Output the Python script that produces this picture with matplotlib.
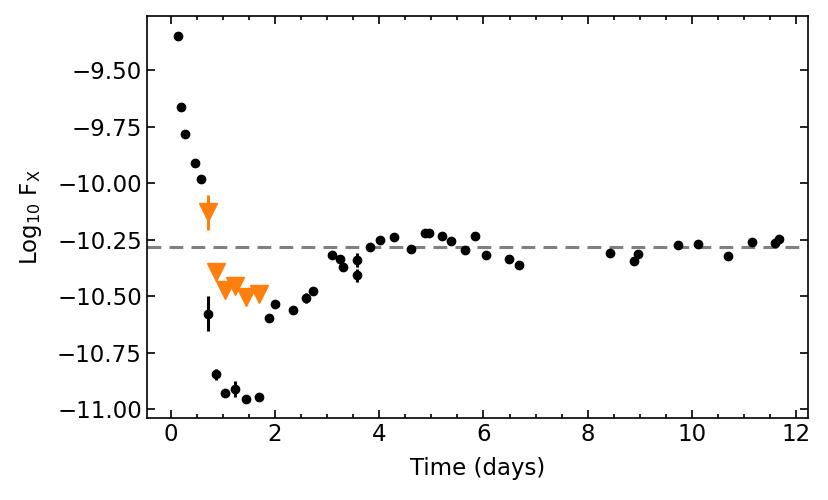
import numpy as np
import matplotlib
matplotlib.use("Agg")
import matplotlib.pyplot as plt
from matplotlib.ticker import FuncFormatter

ORANGE = "#ff7f0e"
GREY = "#808080"

# detections (days, log10 flux, 1-sigma error)
t_det = [0.14, 0.20, 0.27, 0.47, 0.58, 0.72, 0.86, 1.04, 1.24, 1.44, 1.69,
         1.89, 2.01, 2.35, 2.59, 2.72, 3.10, 3.24, 3.31, 3.57, 3.57, 3.83,
         4.02, 4.29, 4.60, 4.87, 4.95, 5.20, 5.38, 5.64, 5.83, 6.05, 6.49,
         6.68, 8.43, 8.88, 8.96, 9.73, 10.12, 10.69, 11.15, 11.60, 11.67]
f_det = [-9.349, -9.662, -9.783, -9.910, -9.982, -10.578, -10.847, -10.930,
         -10.911, -10.958, -10.945, -10.599, -10.537, -10.562, -10.510,
         -10.477, -10.319, -10.337, -10.371, -10.341, -10.409, -10.285,
         -10.250, -10.239, -10.293, -10.223, -10.223, -10.232, -10.256,
         -10.297, -10.236, -10.319, -10.337, -10.364, -10.310, -10.344,
         -10.312, -10.273, -10.270, -10.321, -10.260, -10.267, -10.247]
e_det = [0.005, 0.005, 0.005, 0.005, 0.005, 0.078, 0.026, 0.008, 0.035,
         0.008, 0.008, 0.008, 0.008, 0.008, 0.022, 0.008, 0.008, 0.008,
         0.008, 0.030, 0.030, 0.008, 0.008, 0.008, 0.008, 0.008, 0.008,
         0.008, 0.008, 0.008, 0.008, 0.008, 0.008, 0.008, 0.008, 0.008,
         0.008, 0.008, 0.008, 0.008, 0.008, 0.008, 0.008]

# upper limits
t_ul = [0.71, 0.865, 1.05, 1.24, 1.44, 1.69]
f_ul = [-10.129, -10.393, -10.474, -10.457, -10.504, -10.489]
e_ul = [0.077, 0.005, 0.005, 0.015, 0.005, 0.005]

MEAN_LEVEL = -10.281

plt.rcParams.update({"font.family": "DejaVu Sans", "font.size": 16.5,
                     "mathtext.default": "regular"})

fig = plt.figure(figsize=(8.29, 5.0), dpi=100)
ax = fig.add_axes([0.177, 0.164, 0.798, 0.804])

ax.axhline(MEAN_LEVEL, color=GREY, ls=(0, (4.5, 2.7)), lw=2.2, zorder=1)
ax.errorbar(t_det, f_det, yerr=e_det, fmt="o", color="black", ms=6,
            elinewidth=2.2, capsize=0, zorder=3)
ax.errorbar(t_ul, f_ul, yerr=e_ul, fmt="v", color=ORANGE, ms=12.5,
            elinewidth=2.2, capsize=0, zorder=2)

ax.set_xlim(-0.46, 12.23)
ax.set_ylim(-11.04, -9.26)
ax.set_xticks(np.arange(0, 13, 2))
ax.set_xticks(np.arange(0, 12.3, 0.5), minor=True)
ax.set_yticks([-9.5, -9.75, -10.0, -10.25, -10.5, -10.75, -11.0])
ax.yaxis.set_major_formatter(
    FuncFormatter(lambda v, p: f"{v:.2f}".replace("-", "\u2212")))
ax.tick_params(which="both", direction="in", top=True, right=True, width=1.2)
ax.tick_params(which="major", length=6)
ax.tick_params(which="minor", length=3)
for s in ax.spines.values():
    s.set_linewidth(1.2)

ax.set_xlabel("Time (days)", labelpad=8)
ax.set_ylabel(r"Log$_{10}$ F$_{X}$", labelpad=9)

fig.savefig("out.png", dpi=100)
